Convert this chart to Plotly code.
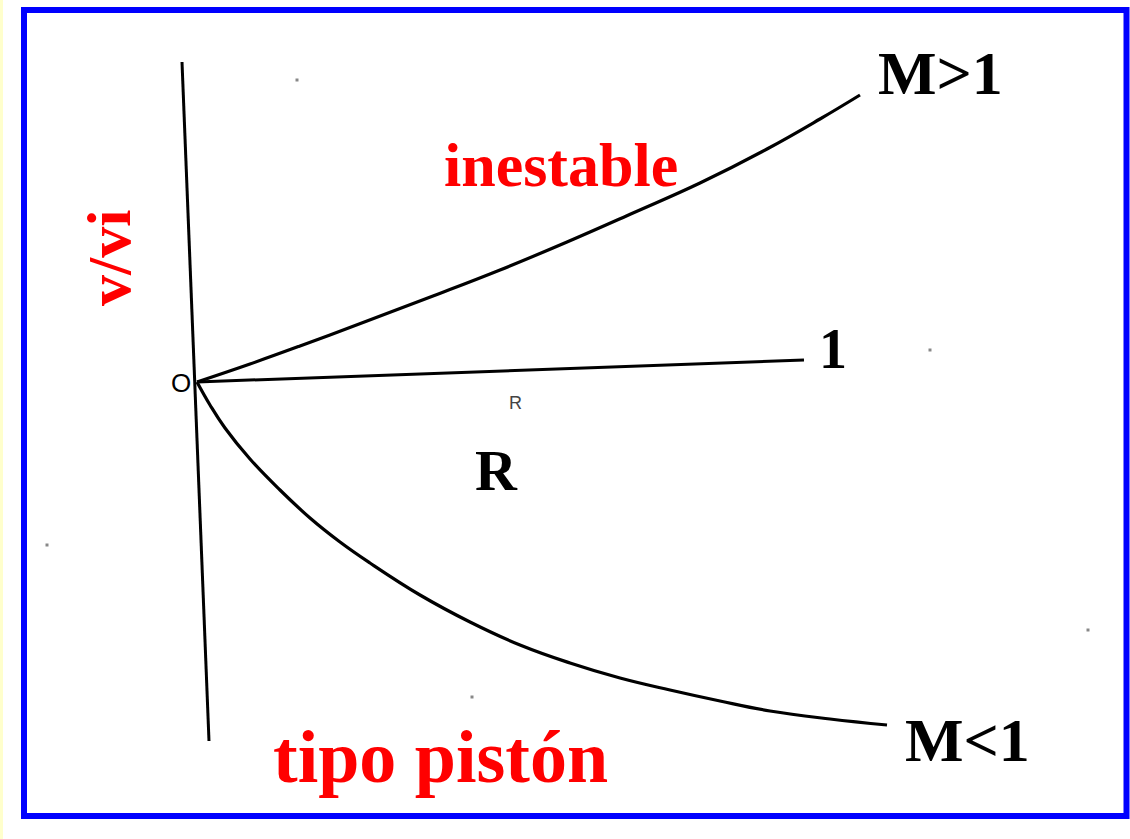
import plotly.graph_objects as go

# ---- data (diagram coordinates, pixel-like space: x right, y down) ----
axis_x = [182, 209]
axis_y = [62, 741]

unit_x = [197, 804]
unit_y = [382, 360]

upper_x = [197, 250, 300, 367, 433, 500, 567, 633, 700, 767, 820, 860]
upper_y = [382, 364, 346, 321, 296, 270, 242, 213, 183, 149, 119, 95]

lower_x = [197, 210, 225, 250, 280, 310, 340, 370, 420, 470, 520, 570, 620, 670, 720, 770, 830, 887]
lower_y = [382, 405, 428, 459, 490, 518, 542, 563, 595, 622, 645, 663, 678, 690, 701, 711, 719, 725]

speck_x = [297, 930, 47, 1088, 472]
speck_y = [80, 350, 545, 630, 697]

labels = ["M>1", "M<1", "1", "R", "inestable", "tipo pistón", "v/vi", "O", "R"]
label_x = [940, 967, 833, 496, 561, 440, 109, 181, 515]
label_y = [73, 740, 349, 470, 165, 757, 258, 383, 403]
label_size = [62, 62, 56, 58, 62, 74, 62, 26, 18]
label_color = ["black", "black", "black", "black", "red", "red", "red", "black", "#444"]
label_font = ["Liberation Serif"] * 7 + ["Liberation Sans", "Liberation Sans"]
label_bold = [True] * 7 + [False, False]
label_angle = [0, 0, 0, 0, 0, 0, -90, 0, 0]

W, H = 1130, 839

fig = go.Figure()
fig.add_trace(go.Scatter(x=axis_x, y=axis_y, mode="lines", line=dict(color="black", width=3), hoverinfo="skip"))
fig.add_trace(go.Scatter(x=unit_x, y=unit_y, mode="lines", line=dict(color="black", width=3), hoverinfo="skip"))
fig.add_trace(go.Scatter(x=upper_x, y=upper_y, mode="lines",
                         line=dict(color="black", width=3.2, shape="spline", smoothing=1.2), hoverinfo="skip"))
fig.add_trace(go.Scatter(x=lower_x, y=lower_y, mode="lines",
                         line=dict(color="black", width=3.2, shape="spline", smoothing=1.2), hoverinfo="skip"))
fig.add_trace(go.Scatter(x=speck_x, y=speck_y, mode="markers",
                         marker=dict(color="#888", size=3, symbol="square"), hoverinfo="skip"))

for t, x, y, s, c, f, b, a in zip(labels, label_x, label_y, label_size, label_color,
                                   label_font, label_bold, label_angle):
    fig.add_annotation(x=x, y=y, xref="x", yref="y", text=f"<b>{t}</b>" if b else t,
                       showarrow=False, textangle=a, xanchor="center", yanchor="middle",
                       font=dict(family=f, size=s, color=c))

# blue frame
fig.add_shape(type="rect", x0=24, y0=10, x1=1126.5, y1=816, xref="x", yref="y",
              line=dict(color="#0000ff", width=6), fillcolor="rgba(0,0,0,0)")
# pale strip at left edge
fig.add_shape(type="rect", x0=0, y0=0, x1=3, y1=H, xref="x", yref="y",
              line=dict(width=0), fillcolor="#ffffcc", layer="below")

fig.update_layout(
    width=W, height=H, margin=dict(l=0, r=0, t=0, b=0),
    paper_bgcolor="white", plot_bgcolor="white", showlegend=False,
    xaxis=dict(range=[0, W], visible=False, fixedrange=True),
    yaxis=dict(range=[H, 0], visible=False, fixedrange=True),
)

fig.write_html("out.html", config={"displayModeBar": False},
               post_script="document.body.style.margin='0';document.body.style.overflow='hidden';")
